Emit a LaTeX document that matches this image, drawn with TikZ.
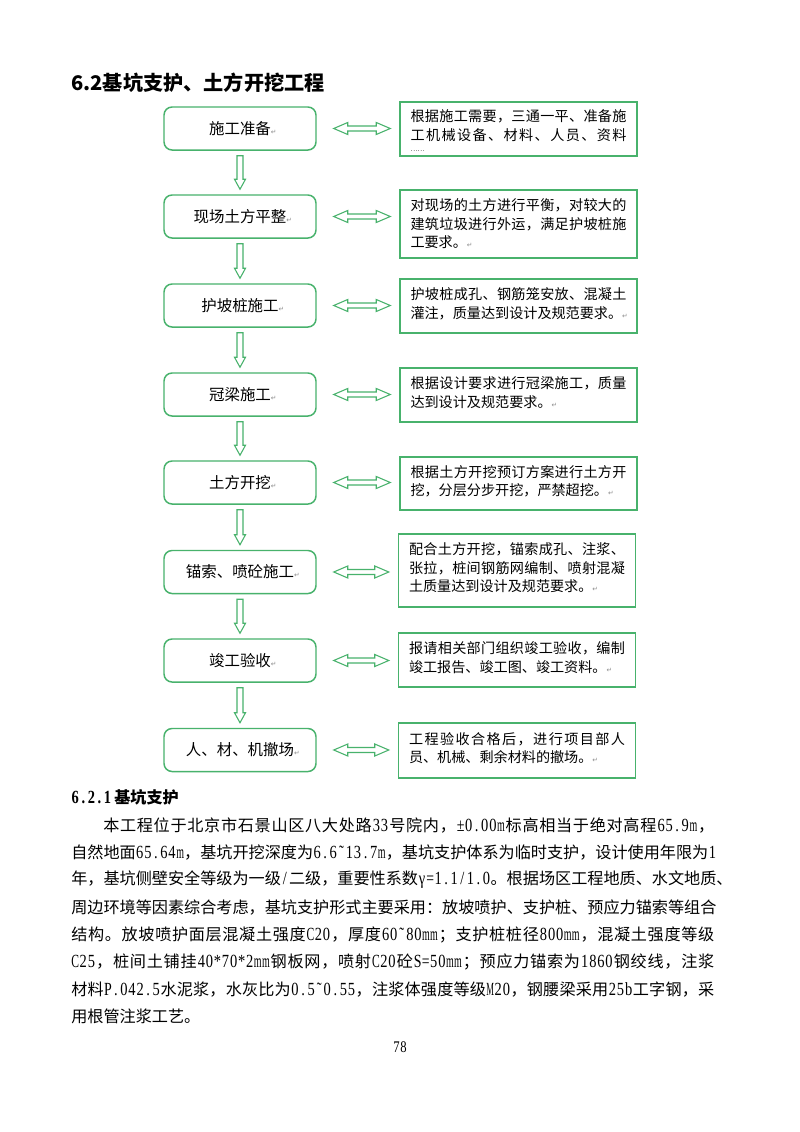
\documentclass[tikz,border=0pt]{standalone}
\usepackage{fontspec}
\usepackage{graphicx}
\setmainfont{Noto Sans CJK SC}
\newfontfamily\lat[FakeStretch=0.78,Scale=1.15]{Liberation Serif}
\newfontfamily\djv{DejaVu Sans}
\usetikzlibrary{calc}
\definecolor{boxgreen}{RGB}{72,178,108}
\newcommand\retm{{\djv\fontsize{5}{5}\selectfont\color{black!45}↵}}
% justification helpers
\def\jaux#1{{#1}\futurelet\jnext\jcheck}
\def\jcheck{\ifx\jnext\relax\expandafter\jstop\else\hfil\expandafter\jaux\fi}
\def\jstop\relax{}
\newcommand\jl[1]{\noindent\hbox to\hsize{\jaux#1\relax}}
\newcommand\jw[2]{\hbox to #1{\jaux#2\relax}}
% half-width latin characters
\newdimen\hwd
\newcommand\hwone[1]{\setbox0\hbox{#1}\ifdim\wd0>0.96\hwd\makebox[\hwd]{\resizebox{0.96\hwd}{\height}{#1}}\else\makebox[\hwd]{#1}\fi}
\def\hwaux#1{\ifx#1\relax\else\hwone{#1}\expandafter\hwaux\fi}
\newcommand\la[1]{{\hwd=0.5em\lat\hwaux#1\relax}}
\newcommand\bst{\rule[-4.7pt]{0pt}{4.7pt}}
\newcommand\dnarr[2]{%
  \draw[blockarr] let \p1=(#1.south), \p2=(#2.north) in
  ({\x1-2.232pt},{\y1-3.72pt}) -- ({\x1+2.232pt},{\y1-3.72pt}) --
  ({\x1+2.232pt},{\y2+11.16pt}) -- ({\x1+4.09pt},{\y2+11.16pt}) --
  (\x1,{\y2+3.72pt}) -- ({\x1-4.09pt},{\y2+11.16pt}) --
  ({\x1-2.232pt},{\y2+11.16pt}) -- cycle;}
\newcommand\hdarr[2]{%
  \draw[blockarr] let \p1=(#1.east), \p2=(#2.west) in
  ({\x1+12.65pt},\y1) -- ({\x1+23.06pt},{\y1+4.46pt}) --
  ({\x1+23.06pt},{\y1+1.86pt}) -- ({\x2-17.11pt},{\y1+1.86pt}) --
  ({\x2-17.11pt},{\y1+4.46pt}) -- ({\x2-6.70pt},\y1) --
  ({\x2-17.11pt},{\y1-4.46pt}) -- ({\x2-17.11pt},{\y1-1.86pt}) --
  ({\x1+23.06pt},{\y1-1.86pt}) -- ({\x1+23.06pt},{\y1-4.46pt}) -- cycle;}
\tikzset{
  lbox/.style={draw=boxgreen, line width=1.1pt, rounded corners=6pt,
    minimum width=113.1pt, minimum height=32pt, inner sep=0pt,
    font=\fontsize{11.5}{14}\selectfont},
  rbox/.style={draw=boxgreen, line width=1.1pt, text width=160.7pt,
    inner xsep=7.81pt, inner ysep=0pt, align=left,
    font=\fontsize{10.5}{13.76}\selectfont},
  blockarr/.style={draw=boxgreen, line width=0.8pt, fill=white, line join=miter},
  btext/.style={anchor=west, inner sep=0pt, font=\fontsize{12}{14}\selectfont},
}
\begin{document}
\begin{tikzpicture}[x=0.744pt, y=-0.744pt]
\useasboundingbox (0,0) rectangle (800,1132);
\fill[white] (0,0) rectangle (800,1132);

\node[anchor=west, inner sep=0pt, font=\fontsize{15}{18}\selectfont\bfseries] (title) at (71,83) {6.2基坑支护、土方开挖工程};

% left boxes
\node[lbox] (L1) at (240,128.5) {施工准备\rlap{\retm}};
\node[lbox] (L2) at (240,216.5) {现场土方平整\rlap{\retm}};
\node[lbox] (L3) at (240,305.5) {护坡桩施工\rlap{\retm}};
\node[lbox] (L4) at (240,394.5) {冠梁施工\rlap{\retm}};
\node[lbox] (L5) at (240,482.5) {土方开挖\rlap{\retm}};
\node[lbox] (L6) at (240,572) {锚索、喷砼施工\rlap{\retm}};
\node[lbox] (L7) at (240,660.5) {竣工验收\rlap{\retm}};
\node[lbox] (L8) at (240,750) {人、材、机撤场\rlap{\retm}};

% right boxes
\node[rbox, minimum height=40.18pt] (R1) at (518.5,129) {\noindent\rule{0pt}{11.5pt}\jl{根据施工需要，三通一平、准备施}\\\jl{工机械设备、材料、人员、资料}\\[-5.1pt]{\fontsize{5}{6}\selectfont ……}};
\node[rbox, minimum height=50.6pt] (R2) at (518.5,224) {\jl{对现场的土方进行平衡，对较大的}\\\jl{建筑垃圾进行外运，满足护坡桩施}\\工要求。\retm};
\node[rbox, minimum height=40.18pt] (R3) at (518.5,306) {\jl{护坡桩成孔、钢筋笼安放、混凝土}\\灌注，质量达到设计及规范要求。\retm\bst};
\node[rbox, minimum height=40.18pt] (R4) at (518.5,395) {\jl{根据设计要求进行冠梁施工，质量}\\达到设计及规范要求。\retm\bst};
\node[rbox, minimum height=39.4pt] (R5) at (518.5,483.5) {\jl{根据土方开挖预订方案进行土方开}\\挖，分层分步开挖，严禁超挖。\retm\bst};
\node[rbox, minimum height=54.3pt] (R6) at (517,570.5) {\jl{配合土方开挖，锚索成孔、注浆、}\\\jl{张拉，桩间钢筋网编制、喷射混凝}\\土质量达到设计及规范要求。\retm\bst};
\node[rbox, minimum height=40.18pt] (R7) at (517,660) {\jl{报请相关部门组织竣工验收，编制}\\竣工报告、竣工图、竣工资料。\retm\bst};
\node[rbox, minimum height=40.9pt] (R8) at (517,750.5) {\jl{工程验收合格后，进行项目部人}\\员、机械、剩余材料的撤场。\retm\bst};

% connectors
\dnarr{L1}{L2}
\dnarr{L2}{L3}
\dnarr{L3}{L4}
\dnarr{L4}{L5}
\dnarr{L5}{L6}
\dnarr{L6}{L7}
\dnarr{L7}{L8}
\hdarr{L1}{R1}
\hdarr{L2}{R2}
\hdarr{L3}{R3}
\hdarr{L4}{R4}
\hdarr{L5}{R5}
\hdarr{L6}{R6}
\hdarr{L7}{R7}
\hdarr{L8}{R8}

% body text
\node[anchor=west, inner sep=0pt, font=\fontsize{12}{14}\selectfont\bfseries] (sub) at (71,797) {\la{6.2.1}\kern2pt 基坑支护};
\node[btext] (b1) at (103,825) {\jw{454.6pt}{本工程位于北京市石景山区八大处路{\la{33}}号院内，{\la{±0.00m}}标高相当于绝对高程{\la{65.9m}}，}};
\node[btext] (b2) at (71,852.4) {\jw{478.4pt}{自然地面{\la{65.64m}}，基坑开挖深度为{\la{6.6˜13.7m}}，基坑支护体系为临时支护，设计使用年限为{\la{1}}}};
\node[btext] (b3) at (71,879.8) {\jw{478.4pt}{年，基坑侧壁安全等级为一级{\la{/}}二级，重要性系数{\la{γ=1.1/1.0}}。根据场区工程地质、水文地质、}};
\node[btext] (b4) at (71,907.2) {\jw{478.4pt}{周边环境等因素综合考虑，基坑支护形式主要采用：放坡喷护、支护桩、预应力锚索等组合}};
\node[btext] (b5) at (71,934.6) {\jw{478.4pt}{结构。放坡喷护面层混凝土强度{\la{C20}}，厚度{\la{60˜80mm}}；支护桩桩径{\la{800mm}}，混凝土强度等级}};
\node[btext] (b6) at (71,962) {\jw{478.4pt}{{\la{C25}}，桩间土铺挂{\la{40*70*2mm}}钢板网，喷射{\la{C20}}砼{\la{S=50mm}}；预应力锚索为{\la{1860}}钢绞线，注浆}};
\node[btext] (b7) at (71,989.4) {\jw{478.4pt}{材料{\la{P.042.5}}水泥浆，水灰比为{\la{0.5˜0.55}}，注浆体强度等级{\la{M20}}，钢腰梁采用{\la{25b}}工字钢，采}};
\node[btext] (b8) at (71,1016.8) {用根管注浆工艺。};
\node[inner sep=0pt, font=\fontsize{10.5}{12}\selectfont] (pg) at (400,1047) {\la{78}};
\end{tikzpicture}
\end{document}
